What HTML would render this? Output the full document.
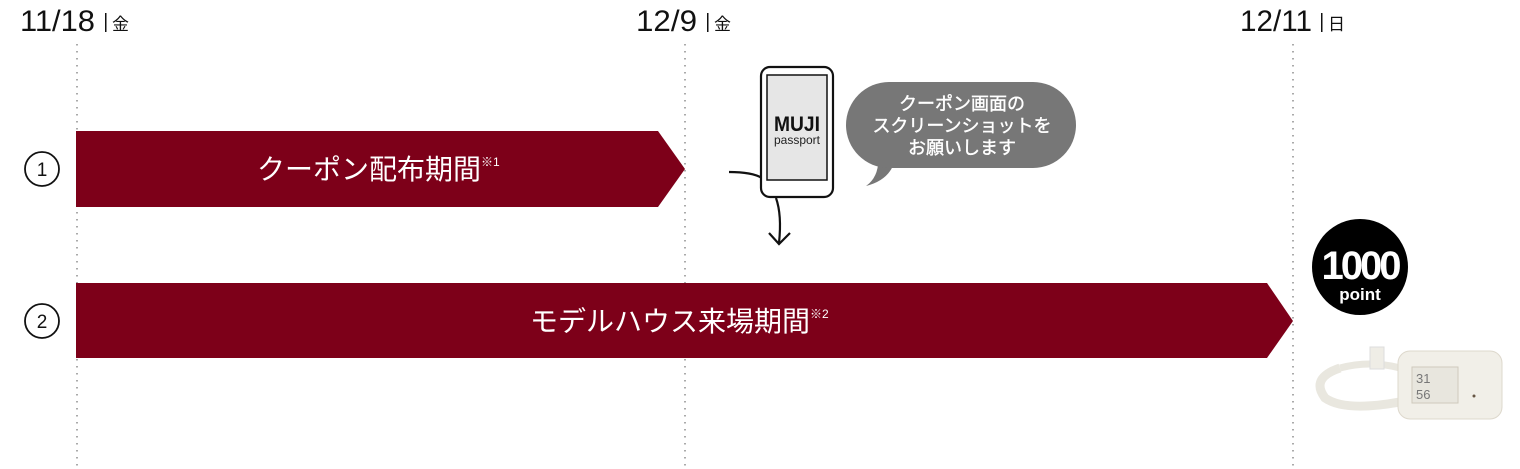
<!DOCTYPE html>
<html><head><meta charset="utf-8"><style>
html,body{margin:0;padding:0;background:#fff;}
svg{display:block;}
text{font-family:"Liberation Sans","Noto Sans CJK JP",sans-serif;}
</style></head><body>
<svg width="1520" height="469" viewBox="0 0 1520 469" xmlns="http://www.w3.org/2000/svg">
<g stroke="#aaa" stroke-width="2" stroke-dasharray="1.5 5.5">
<line x1="77" y1="44" x2="77" y2="469"/>
<line x1="685" y1="44" x2="685" y2="469"/>
<line x1="1293" y1="44" x2="1293" y2="469"/>
</g>
<g fill="#111">
<text x="20" y="31" font-size="30" textLength="75" lengthAdjust="spacingAndGlyphs">11/18</text>
<rect x="105" y="13" width="1.5" height="19"/>
<text x="112" y="30" font-size="17">金</text>
<text x="636" y="31" font-size="30" textLength="61" lengthAdjust="spacingAndGlyphs">12/9</text>
<rect x="707" y="13" width="1.5" height="19"/>
<text x="714" y="30" font-size="17">金</text>
<text x="1240" y="31" font-size="30" textLength="72" lengthAdjust="spacingAndGlyphs">12/11</text>
<rect x="1321" y="13" width="1.5" height="19"/>
<text x="1328" y="30" font-size="17">日</text>
</g>
<circle cx="42" cy="169" r="17" fill="none" stroke="#111" stroke-width="1.8"/>
<text x="42" y="176" font-size="19" text-anchor="middle" fill="#111">1</text>
<circle cx="42" cy="321" r="17" fill="none" stroke="#111" stroke-width="1.8"/>
<text x="42" y="328" font-size="19" text-anchor="middle" fill="#111">2</text>
<polygon points="76,131 658,131 685,169 658,207 76,207" fill="#7d0019"/>
<polygon points="76,283 1267,283 1293,321 1267,358 76,358" fill="#7d0019"/>
<text x="257" y="179" font-size="28" fill="#fff">クーポン配布期間<tspan font-size="12" dy="-13">※1</tspan></text>
<text x="530" y="331" font-size="28" fill="#fff">モデルハウス来場期間<tspan font-size="12" dy="-13">※2</tspan></text>
<!-- phone -->
<path d="M729,172 Q752,172 762,178" fill="none" stroke="#111" stroke-width="2.2"/>
<path d="M776,198 Q782,215 779,243" fill="none" stroke="#111" stroke-width="2.2"/>
<path d="M769,233 L779,244 L790,233" fill="none" stroke="#111" stroke-width="2.2"/>
<rect x="761" y="67" width="72" height="130" rx="9" fill="#fff" stroke="#111" stroke-width="2.2"/>
<rect x="767" y="75" width="60" height="105" fill="#e6e6e6" stroke="#111" stroke-width="1.5"/>
<text x="797" y="131" font-size="21" font-weight="bold" text-anchor="middle" fill="#111" textLength="46" lengthAdjust="spacingAndGlyphs">MUJI</text>
<text x="797" y="144" font-size="12" text-anchor="middle" fill="#222" textLength="46" lengthAdjust="spacingAndGlyphs">passport</text>
<!-- bubble -->
<path d="M895,160 Q890,180 866,186 Q880,176 878,155 Z" fill="#777"/>
<rect x="846" y="82" width="230" height="86" rx="43" fill="#777"/>
<g fill="#fff" font-size="18" text-anchor="middle" stroke="#fff" stroke-width="0.4">
<text x="962" y="110">クーポン画面の</text>
<text x="962" y="132">スクリーンショットを</text>
<text x="962" y="154">お願いします</text>
</g>
<!-- point -->
<circle cx="1360" cy="267" r="48" fill="#000"/>
<text x="1360" y="279" font-size="40" font-weight="bold" fill="#fff" text-anchor="middle" letter-spacing="-3">1000</text>
<text x="1360" y="300" font-size="17" font-weight="bold" fill="#fff" text-anchor="middle">point</text>
<!-- device -->
<path d="M1340,368 Q1310,378 1325,398 Q1345,412 1400,402" fill="none" stroke="#e9e7df" stroke-width="9"/>
<path d="M1340,368 Q1370,360 1400,368" fill="none" stroke="#e9e7df" stroke-width="7"/>
<rect x="1370" y="347" width="14" height="22" fill="#efede6" stroke="#ddd"/>
<rect x="1398" y="351" width="104" height="68" rx="12" fill="#f1efe8" stroke="#ddd8cc"/>
<rect x="1412" y="367" width="46" height="36" fill="#e8e6de" stroke="#cfcabd"/>
<text x="1416" y="383" font-size="13" fill="#777">31</text>
<text x="1416" y="399" font-size="13" fill="#777">56</text>
<circle cx="1474" cy="396" r="1.5" fill="#654"/>
</svg>
</body></html>
